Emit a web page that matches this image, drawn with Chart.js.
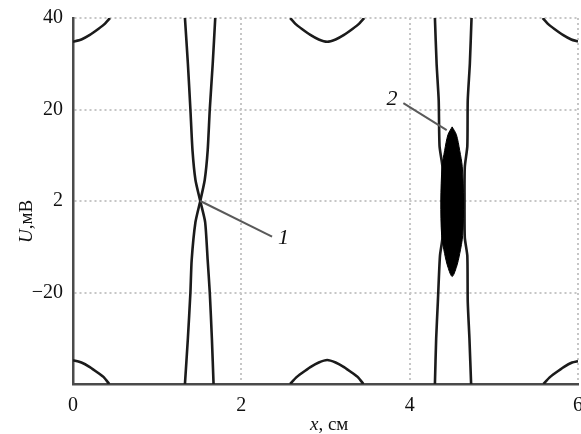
<!DOCTYPE html>
<html>
<head>
<meta charset="utf-8">
<script src="https://cdn.jsdelivr.net/npm/chart.js@4.4.0/dist/chart.umd.min.js"></script>
<style>
    body { margin: 0; overflow: hidden; background: #fff; }
    #contenedor { width: 586px; height: 434px; }
</style>
</head>
<body>
<div id="contenedor"><canvas id="grafico"></canvas></div>
<script>
// ejes
const ticksX = [0, 2, 4, 6];
const ticksU = [40, 20, 0, -20, -40];
const textosTicksU = ['40', '20', '2', '\u221220', ''];

// arcos superiores e inferiores (x, U)
const arcoSupIzqX = [0, 0.1, 0.2, 0.3, 0.37, 0.44];
const arcoSupIzqU = [34.8, 35.3, 36.3, 37.6, 38.6, 40];
const arcoInfIzqX = [0, 0.1, 0.2, 0.3, 0.37, 0.43];
const arcoInfIzqU = [-34.8, -35.3, -36.3, -37.6, -38.6, -40];
const arcoSupCenX = [2.58, 2.65, 2.72, 2.82, 2.92, 3.02, 3.12, 3.22, 3.32, 3.39, 3.46];
const arcoSupCenU = [40, 38.6, 37.6, 36.3, 35.3, 34.8, 35.3, 36.3, 37.6, 38.6, 40];
const arcoInfCenX = [2.58, 2.65, 2.72, 2.82, 2.92, 3.02, 3.12, 3.22, 3.32, 3.39, 3.45];
const arcoInfCenU = [-40, -38.6, -37.6, -36.3, -35.3, -34.75, -35.3, -36.3, -37.6, -38.6, -40];
const arcoSupDerX = [5.58, 5.65, 5.72, 5.82, 5.92, 6.0];
const arcoSupDerU = [40, 38.6, 37.6, 36.3, 35.3, 34.85];
const arcoInfDerX = [5.59, 5.66, 5.73, 5.83, 5.93, 6.0];
const arcoInfDerU = [-40, -38.6, -37.6, -36.3, -35.3, -35.0];

// separatriz 1 (cruce en x = 1.51)
const sepAX = [1.33, 1.365, 1.395, 1.42, 1.455, 1.512, 1.57, 1.60, 1.625, 1.65, 1.67];
const sepAU = [40, 30, 20, 11, 4.6, 0, -4.6, -12.9, -20, -30, -40];
const sepBX = [1.69, 1.66, 1.625, 1.60, 1.565, 1.512, 1.455, 1.41, 1.395, 1.365, 1.33];
const sepBU = [40, 30, 20, 11, 4.6, 0, -4.6, -12.9, -20, -30, -40];

// separatriz 2 (alrededor de x = 4.5)
const sepCX = [4.30, 4.32, 4.345, 4.355, 4.39, 4.395, 4.39, 4.36, 4.335, 4.315, 4.30];
const sepCU = [40, 30, 22, 12, 7.4, 0, -8, -12, -22, -30, -40];
const sepDX = [4.735, 4.715, 4.69, 4.685, 4.655, 4.652, 4.655, 4.685, 4.69, 4.71, 4.73];
const sepDU = [40, 30, 22, 12, 7.4, 0, -8, -12, -22, -30, -40];

// mancha negra (2)
const manchaX = [4.505, 4.555, 4.595, 4.625, 4.64, 4.63, 4.595, 4.555, 4.505, 4.455, 4.415, 4.38, 4.37, 4.385, 4.415, 4.455, 4.505];
const manchaU = [16.2, 14.5, 11, 7.5, 0, -7.5, -11.5, -14.5, -16.5, -14.5, -11.5, -7.5, 0, 7.5, 11, 14.5, 16.2];

// lineas de referencia de las etiquetas
const guia1X = [1.512, 2.365];
const guia1U = [0, -7.8];
const guia2X = [3.925, 4.44];
const guia2U = [21.4, 15.5];
const etiquetas = ['1', '2'];
const etiquetasX = [2.5, 3.79];
const etiquetasU = [-9.5, 21];

let puntos = (xs, us) => xs.map((x, i) => ({ x: x, y: us[i] }));

let curva = (xs, us) => ({
    data: puntos(xs, us),
    showLine: true,
    borderColor: '#1b1b1b',
    borderWidth: 2.6,
    pointRadius: 0,
    tension: 0.2,
    fill: false,
});

let guia = (xs, us) => ({
    data: puntos(xs, us),
    showLine: true,
    borderColor: '#5a5a5a',
    borderWidth: 2,
    pointRadius: 0,
    tension: 0,
    fill: false,
});

const serif = "'Liberation Serif', 'DejaVu Serif', serif";

const textosPlugin = {
    id: 'textos',
    afterDraw: (chart) => {
        let ctx = chart.ctx;
        let ex = chart.scales.x;
        let ey = chart.scales.y;
        ctx.save();
        ctx.fillStyle = '#111';
        ctx.textBaseline = 'alphabetic';
        // etiquetas 1 y 2
        ctx.font = 'italic 22px ' + serif;
        ctx.textAlign = 'center';
        etiquetas.forEach((t, i) => {
            ctx.fillText(t, ex.getPixelForValue(etiquetasX[i]), ey.getPixelForValue(etiquetasU[i]));
        });
        // titulo eje x
        ctx.textAlign = 'left';
        let px = 310;
        ctx.font = 'italic 19px ' + serif;
        ctx.fillText('x', px, 430);
        px += ctx.measureText('x').width;
        ctx.font = '19px ' + serif;
        ctx.fillText(', см', px, 430);
        // titulo eje U
        ctx.translate(32, 243);
        ctx.rotate(-Math.PI / 2);
        ctx.font = 'italic 19px ' + serif;
        ctx.fillText('U', 0, 0);
        let w = ctx.measureText('U').width;
        ctx.font = '19px ' + serif;
        ctx.fillText(',мВ', w, 0);
        ctx.restore();
    }
};

let cargarGrafico = () => {
    let contexto = document.getElementById('grafico').getContext('2d');
    new Chart(contexto, {
        type: 'scatter',
        data: {
            datasets: [
                {
                    data: puntos(manchaX, manchaU),
                    showLine: true,
                    borderColor: '#000',
                    backgroundColor: '#000',
                    borderWidth: 1,
                    pointRadius: 0,
                    tension: 0.3,
                    fill: 'shape',
                },
                guia(guia1X, guia1U),
                guia(guia2X, guia2U),
                curva(arcoSupIzqX, arcoSupIzqU),
                curva(arcoInfIzqX, arcoInfIzqU),
                curva(arcoSupCenX, arcoSupCenU),
                curva(arcoInfCenX, arcoInfCenU),
                curva(arcoSupDerX, arcoSupDerU),
                curva(arcoInfDerX, arcoInfDerU),
                curva(sepAX, sepAU),
                curva(sepBX, sepBU),
                curva(sepCX, sepCU),
                curva(sepDX, sepDU),
            ],
        },
        options: {
            responsive: true,
            maintainAspectRatio: false,
            animation: false,
            layout: { padding: { left: 0, top: 18, right: 8, bottom: 0 } },
            plugins: {
                legend: { display: false },
                tooltip: { enabled: false },
            },
            scales: {
                x: {
                    type: 'linear',
                    min: 0,
                    max: 6,
                    afterBuildTicks: (s) => { s.ticks = ticksX.map(v => ({ value: v })); },
                    afterFit: (s) => { s.height = 50; s.paddingLeft = 0; s.paddingRight = 0; },
                    grid: {
                        drawTicks: false,
                        lineWidth: 2,
                        color: (c) => c.tick && c.tick.value === 0 ? 'rgba(0,0,0,0)' : '#c6c6c6',
                    },
                    border: { display: true, color: '#4a4a4a', width: 2.5, dash: [2, 3] },
                    ticks: {
                        padding: 10,
                        color: '#111',
                        font: { family: serif, size: 20 },
                    },
                },
                y: {
                    type: 'linear',
                    min: -40,
                    max: 40,
                    afterBuildTicks: (s) => { s.ticks = ticksU.map(v => ({ value: v })); },
                    afterFit: (s) => { s.width = 73; s.paddingTop = 0; s.paddingBottom = 0; },
                    grid: {
                        drawTicks: false,
                        lineWidth: 2,
                        color: (c) => c.tick && c.tick.value === -40 ? 'rgba(0,0,0,0)' : '#c6c6c6',
                    },
                    border: { display: true, color: '#4a4a4a', width: 2.5, dash: [2, 3] },
                    ticks: {
                        padding: 10,
                        color: '#111',
                        font: { family: serif, size: 20 },
                        callback: (v) => {
                            let i = ticksU.indexOf(v);
                            return i >= 0 ? textosTicksU[i] : '';
                        },
                    },
                },
            },
        },
        plugins: [textosPlugin],
    });
};

cargarGrafico();
</script>
</body>
</html>
